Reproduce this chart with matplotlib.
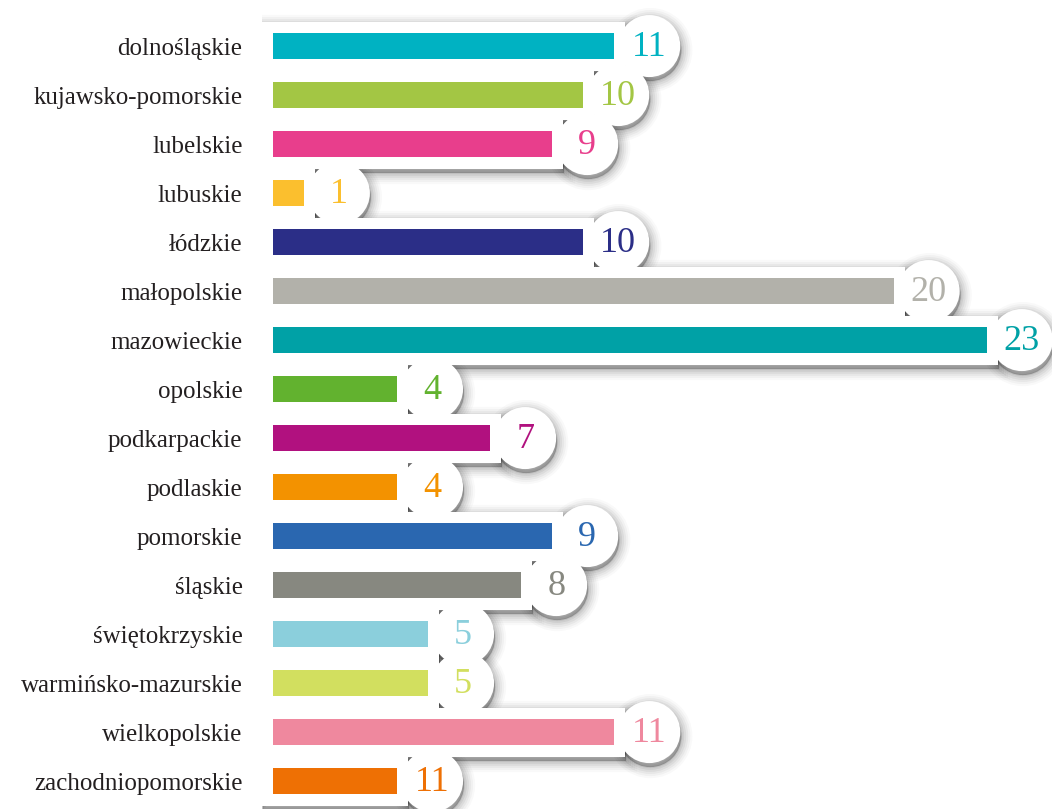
import matplotlib.pyplot as plt
from matplotlib.patches import Rectangle, Ellipse
from matplotlib.transforms import offset_copy

regions = ['dolnośląskie', 'kujawsko-pomorskie', 'lubelskie', 'lubuskie', 'łódzkie',
           'małopolskie', 'mazowieckie', 'opolskie', 'podkarpackie', 'podlaskie',
           'pomorskie', 'śląskie', 'świętokrzyskie', 'warmińsko-mazurskie',
           'wielkopolskie', 'zachodniopomorskie']
values = [11, 10, 9, 1, 10, 20, 23, 4, 7, 4, 9, 8, 5, 5, 11, 4]
labels = ['11', '10', '9', '1', '10', '20', '23', '4', '7', '4', '9', '8', '5', '5', '11', '11']
colors = ['#00B2C2', '#A3C644', '#E83E8C', '#FBBF2E', '#2B2E87', '#B2B1AA', '#00A1A6',
          '#62B22F', '#B1117F', '#F39200', '#2A67B0', '#878880', '#8BCFDC', '#D2DF5F',
          '#EF889E', '#EE7004']

plt.rcParams['font.family'] = ['Liberation Serif', 'DejaVu Serif']

fig = plt.figure(figsize=(10.52, 8.09), dpi=100)
ax = fig.add_axes([262 / 1052, 0, 790 / 1052, 1])
ax.set_xlim(-0.35, 25.1)
ax.set_ylim(15.57, -0.94)

# pixel sizes -> data units
px_x = (25.1 + 0.35) / 790
px_y = (15.57 + 0.94) / 809
r_w = 62 * px_x
r_h = 62 * px_y
circ_off = 35 * px_x
pad = 11 * px_x

def shapes(i, v):
    rect = Rectangle((-0.35, i - 0.5), v + 0.35 + pad, 1.0)
    circ = Ellipse((v + circ_off, i), r_w, r_h)
    return rect, circ

# soft shadow behind the white tabs
for lw, a in [(16, 0.025), (13, 0.03), (10, 0.04), (7, 0.05), (4, 0.06), (1.5, 0.07)]:
    tr = offset_copy(ax.transData, fig=fig, x=1, y=-4, units='dots')
    for i, v in enumerate(values):
        for p in shapes(i, v):
            p.set_transform(tr)
            p.set_facecolor((0, 0, 0, a))
            p.set_edgecolor((0, 0, 0, a))
            p.set_linewidth(lw)
            p.set_zorder(1)
            ax.add_patch(p)

for i, v in enumerate(values):
    for p in shapes(i, v):
        p.set_facecolor('white')
        p.set_edgecolor('none')
        p.set_zorder(2)
        ax.add_patch(p)

ax.barh(range(len(values)), values, height=26 * px_y, color=colors, zorder=3)

for i, (v, lab, c) in enumerate(zip(values, labels, colors)):
    ax.text(v + circ_off, i + 0.03, lab, color=c, fontsize=26, ha='center', va='center', zorder=4)

ax.set_yticks(range(len(regions)))
ax.set_yticklabels(regions, fontsize=18, color='#231F20')
ax.tick_params(axis='y', length=0, pad=14)
ax.set_xticks([])
for s in ax.spines.values():
    s.set_visible(False)

fig.savefig('out.png', dpi=100)
